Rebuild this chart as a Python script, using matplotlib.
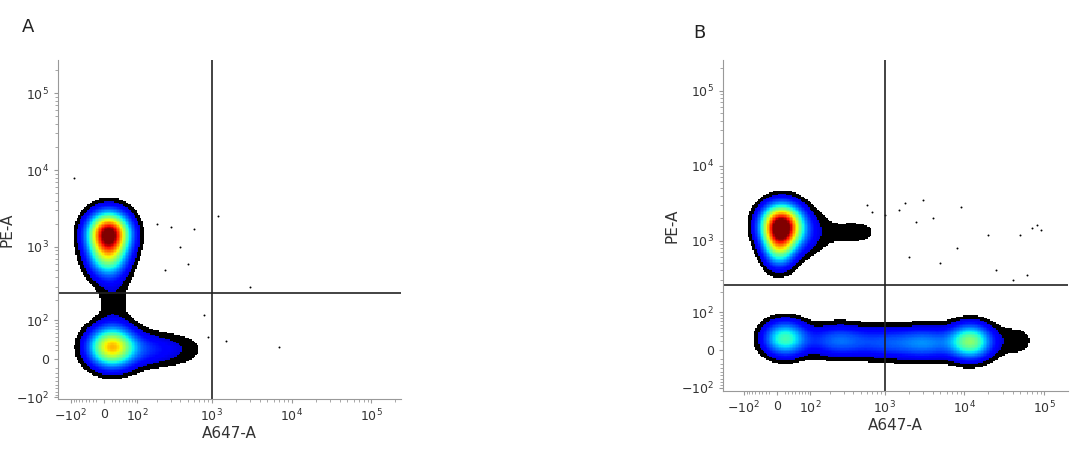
import numpy as np
import matplotlib
matplotlib.use("Agg")
import matplotlib.pyplot as plt
from matplotlib.colors import ListedColormap

# ---- data (fluorescence values; blobs: x, y, sigma_x, sigma_y in asinh units, amplitude)
WX, WY = 90.0, 70.0
blobs_A = [
    (12, 1500, 0.40, 0.42, 1.00),
    (10, 700, 0.38, 0.42, 0.40),
    (20, 25, 0.45, 0.40, 0.70),
    (150, 20, 0.50, 0.35, 0.12),
    (400, 20, 0.55, 0.35, 0.06),
    (25, 200, 0.35, 0.55, 0.06),
]
blobs_B = [
    (10, 1600, 0.38, 0.42, 1.00),
    (5, 800, 0.30, 0.42, 0.40),
    (60, 1300, 0.45, 0.50, 0.12),
    (20, 25, 0.42, 0.36, 0.42),
    (250, 20, 0.60, 0.34, 0.22),
    (1100, 15, 0.65, 0.34, 0.18),
    (3500, 15, 0.55, 0.34, 0.22),
    (12000, 18, 0.42, 0.36, 0.50),
    (400, 1300, 0.90, 0.45, 0.048),
    (45000, 20, 0.45, 0.40, 0.055),
]
outliers_A_x = [-90, 300, 600, 1200, 3000, 7000, 400, 200, 900, 1500, 250, 500, 800]
outliers_A_y = [8000, 1800, 1700, 2500, 300, 25, 1000, 2000, 50, 40, 500, 600, 120]
outliers_B_x = [3000, 9000, 20000, 50000, 70000, 80000, 8000, 25000, 2000, 60000, 40000, 90000,
                1500, 600, 5000, 1000, 2500, 1800, 700, 4000]
outliers_B_y = [3500, 2800, 1200, 1200, 1500, 1600, 800, 400, 600, 350, 300, 1400,
                2600, 3000, 500, 2200, 1800, 3200, 2400, 2000]
gate_A = (1000, 250)
gate_B = (1000, 250)
xticks_v = [-100, 0, 100, 1000, 10000, 100000]
xticks_l = [r'$-10^{2}$', '0', r'$10^{2}$', r'$10^{3}$', r'$10^{4}$', r'$10^{5}$']
yticks_v = [-100, 0, 100, 1000, 10000, 100000]
yticks_l = [r'$-10^{2}$', '0', r'$10^{2}$', r'$10^{3}$', r'$10^{4}$', r'$10^{5}$']

fwx = lambda v: np.arcsinh(np.asarray(v) / WX)
ivx = lambda u: WX * np.sinh(np.asarray(u))
fwy = lambda v: np.arcsinh(np.asarray(v) / WY)
ivy = lambda u: WY * np.sinh(np.asarray(u))

VMIN = 0.04
jet = plt.get_cmap('jet')(np.linspace(0.08, 1, 240))
cols = np.vstack([np.tile([0, 0, 0, 1], (10, 1)), jet])
cmap = ListedColormap(cols)

fig = plt.figure(figsize=(10.8, 4.59), dpi=100)

def panel(rect, blobs, ox, oy, gate, xl, yl, letter, lpos):
    ax = fig.add_axes(rect)
    ax.set_xscale('function', functions=(fwx, ivx))
    ax.set_yscale('function', functions=(fwy, ivy))
    ux = np.linspace(xl[0], xl[1], 230)
    uy = np.linspace(yl[0], yl[1], 230)
    UX, UY = np.meshgrid(ux, uy)
    D = np.zeros_like(UX)
    for (bx, by, sx, sy, a) in blobs:
        D += a * np.exp(-0.5 * (((UX - fwx(bx)) / sx) ** 2 + ((UY - fwy(by)) / sy) ** 2))
    D = np.ma.masked_less(D, VMIN)
    ax.pcolormesh(ivx(ux), ivy(uy), D, cmap=cmap, vmin=VMIN, vmax=1.0, shading='nearest', rasterized=True)
    ax.scatter(ox, oy, s=2, c='black', lw=0)
    ax.axvline(gate[0], color='#222222', lw=1.2)
    ax.axhline(gate[1], color='#222222', lw=1.2)
    ax.set_xticks(xticks_v); ax.set_xticklabels(xticks_l, fontsize=9, color='#333333')
    ax.set_yticks(yticks_v); ax.set_yticklabels(yticks_l, fontsize=9, color='#333333')
    minors = []
    for d in [100, 1000, 10000, 100000]:
        minors += [k * d for k in range(2, 10)]
    minors += [-k * 10 for k in range(2, 10)] + [k * 10 for k in range(2, 10)]
    ax.set_xticks(minors, minor=True); ax.set_yticks(minors, minor=True)
    ax.set_xlim(ivx(xl[0]), ivx(xl[1]))
    ax.set_ylim(ivy(yl[0]), ivy(yl[1]))
    ax.tick_params(which='both', colors='#999999', labelcolor='#333333', length=3)
    ax.tick_params(which='minor', length=2)
    for s in ['top', 'right']:
        ax.spines[s].set_visible(False)
    for s in ['left', 'bottom']:
        ax.spines[s].set_color('#999999')
    ax.set_xlabel('A647-A', fontsize=11, color='#333333', labelpad=1)
    ax.set_ylabel('PE-A', fontsize=11, color='#333333', labelpad=1)
    fig.text(lpos[0], lpos[1], letter, fontsize=13, color='#222222')
    return ax

panel([58/1080, 60/459, 343/1080, 339/459], blobs_A, outliers_A_x, outliers_A_y, gate_A,
      (-1.33, 8.56), (-1.2, 8.95), 'A', (22/1080, 1 - 32/459))
panel([723/1080, 68/459, 345/1080, 331/459], blobs_B, outliers_B_x, outliers_B_y, gate_B,
      (-1.56, 8.39), (-1.26, 8.9), 'B', (693/1080, 1 - 38/459))

fig.savefig('out.png', dpi=100)
